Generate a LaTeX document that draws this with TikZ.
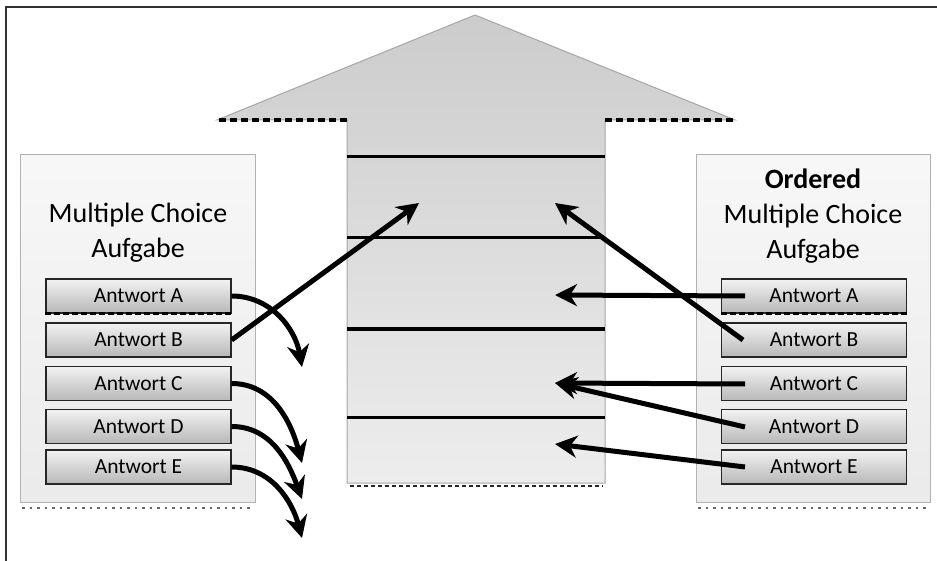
\documentclass[tikz,border=0pt]{standalone}
\usepackage{fontspec}
\setmainfont{Carlito}
\usetikzlibrary{arrows.meta}
\tikzset{
  panel/.style={draw=black!30, line width=1pt, top color=black!3, bottom color=black!8},
  ansbox/.style={draw=black!85, line width=1.2pt, top color=black!5, bottom color=black!28,
     minimum width=185pt, minimum height=34pt, inner sep=0pt, font=\fontsize{21.5}{24}\selectfont, text=black},
  title/.style={align=center, font=\fontsize{28}{35}\selectfont, text=black},
  conn/.style={line width=5pt, draw=black, -{Stealth[length=22pt,width=22pt,inset=7pt]}},
  slotline/.style={line width=3pt, draw=black},
  basedash/.style={line width=3.5pt, draw=black, dash pattern=on 7pt off 4pt},
}
\begin{document}
\begin{tikzpicture}[x=1pt,y=-1pt]
\useasboundingbox (0,0) rectangle (937,561);
% frame
\draw[line width=2.2pt, black!80] (6,561) -- (6,7) -- (937,7);
% big arrow
\shade[top color=black!20, bottom color=black!7, draw=black!35, line width=1pt]
  (347,483) -- (347,120) -- (217,120) -- (475,15) -- (735,120) -- (605,120) -- (605,483) -- cycle;
\draw[basedash] (219,120) -- (347,120);
\draw[basedash] (605,120) -- (733,120);
\draw[line width=2pt, black!85, dash pattern=on 4pt off 3pt] (350,486) -- (603,486);
\draw[slotline] (347,157) -- (605,157);
\draw[slotline] (347,238) -- (605,238);
\draw[slotline] (347,329) -- (605,329);
\draw[slotline] (347,417) -- (605,417);
% panels
\draw[panel] (20,155) rectangle (255,502);
\draw[panel] (696,155) rectangle (930,502);
\draw[black!60, line width=1.3pt, dash pattern=on 2.5pt off 5pt] (22,508) -- (250,508);
\draw[black!60, line width=1.3pt, dash pattern=on 2.5pt off 5pt] (698,508) -- (928,508);
% titles
\node[title] (ltitle) at (138,233) {Multiple Choice\\Aufgabe};
\node[title] (rtitle) at (813,216) {\textbf{Ordered}\\Multiple Choice\\Aufgabe};
% left answers
\node[ansbox] (la) at (138.5,296) {Antwort A};
\node[ansbox] (lb) at (138.5,340) {Antwort B};
\node[ansbox] (lc) at (138.5,383.5) {Antwort C};
\node[ansbox] (ld) at (138.5,426.5) {Antwort D};
\node[ansbox] (le) at (138.5,467) {Antwort E};
% right answers
\node[ansbox] (ra) at (814,296) {Antwort A};
\node[ansbox] (rb) at (814,340) {Antwort B};
\node[ansbox] (rc) at (814,383.5) {Antwort C};
\node[ansbox] (rd) at (814,426.5) {Antwort D};
\node[ansbox] (re) at (814,467) {Antwort E};
\draw[black, line width=2.5pt, dash pattern=on 6pt off 3pt] (la.south west) -- (la.south east);
\draw[black, line width=2.5pt, dash pattern=on 6pt off 3pt] (ra.south west) -- (ra.south east);
% target coordinates
\coordinate (ta) at (302,367);
\coordinate (tb) at (419,203);
\coordinate (tc) at (302,463);
\coordinate (td) at (302,499);
\coordinate (te) at (302,538);
\coordinate (sa) at (745,296);
\coordinate (sb) at (743,340);
\coordinate (sc) at (745,384);
\coordinate (sd) at (745,427);
\coordinate (se) at (745,467);
\coordinate (ua) at (555,295);
\coordinate (ub) at (555,203);
\coordinate (uc) at (555,383);
\coordinate (ue) at (555,444);
% left connectors
\draw[conn] (la.east) to[out=0,in=100] (ta);
\draw[conn] (lb.east) -- (tb);
\draw[conn] (lc.east) to[out=0,in=105] (tc);
\draw[conn] (ld.east) to[out=0,in=110] (td);
\draw[conn] (le.east) to[out=0,in=105] (te);
% right connectors
\draw[conn] (sa) -- (ua);
\draw[conn] (sb) -- (ub);
\draw[conn] (sc) -- (uc);
\draw[conn] (sd) -- (uc);
\draw[conn] (se) -- (ue);
\end{tikzpicture}
\end{document}
